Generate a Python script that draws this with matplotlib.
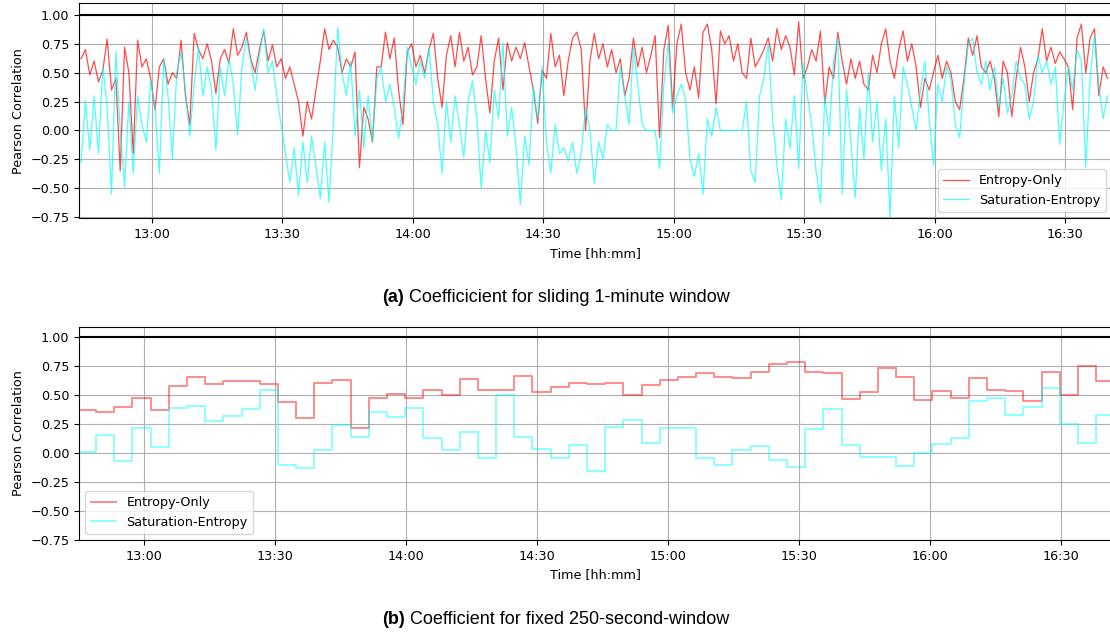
import numpy as np
import pandas as pd
import matplotlib
matplotlib.use("Agg")
import matplotlib.pyplot as plt
import matplotlib.dates as mdates

# (a) sliding 1-minute window, one value per minute starting 12:43:45
sliding_start = "2021-01-01 12:43:45"
entropy_only_sliding = [
    0.62, 0.70, 0.48, 0.60, 0.42, 0.52, 0.79, 0.35, 0.45, -0.35,
    0.72, 0.50, -0.20, 0.78, 0.55, 0.62, 0.45, 0.18, 0.55, 0.62,
    0.40, 0.50, 0.45, 0.78, 0.30, 0.05, 0.84, 0.70, 0.62, 0.75,
    0.60, 0.32, 0.62, 0.70, 0.58, 0.88, 0.65, 0.72, 0.85, 0.62,
    0.50, 0.70, 0.86, 0.60, 0.74, 0.55, 0.62, 0.45, 0.55, 0.40,
    0.25, -0.05, 0.25, 0.10, 0.35, 0.60, 0.88, 0.70, 0.78, 0.72,
    0.50, 0.62, 0.55, 0.68, -0.32, 0.20, 0.10, -0.10, 0.55,
    0.55, 0.85, 0.62, 0.80, 0.35, 0.05, 0.68, 0.75, 0.55, 0.65,
    0.50, 0.70, 0.84, 0.45, 0.20, 0.65, 0.82, 0.55, 0.85, 0.60,
    0.72, 0.48, 0.55, 0.82, 0.45, 0.15, 0.60, 0.80, 0.35, 0.76,
    0.60, 0.72, 0.62, 0.76, 0.55, 0.35, 0.06, 0.52, 0.45, 0.84,
    0.55, 0.65, 0.30, 0.60, 0.80, 0.85, 0.70, 0.00, 0.60, 0.84,
    0.62, 0.75, 0.55, 0.70, 0.50, 0.62, 0.30, 0.45, 0.80, 0.55,
    0.72, 0.50, 0.65, 0.82, -0.06, 0.70, 0.91, 0.20, 0.75, 0.92,
    0.50, 0.35, 0.55, 0.28, 0.85, 0.92, 0.70, 0.23, 0.86, 0.75,
    0.82, 0.60, 0.75, 0.50, 0.45,
    0.80, 0.55, 0.62, 0.70, 0.80, 0.60, 0.88, 0.70, 0.82, 0.72,
    0.48, 0.94, 0.45, 0.55, 0.70, 0.60, 0.86, 0.23, 0.55, 0.45,
    0.85, 0.60, 0.40, 0.62, 0.45, 0.60, 0.40, 0.35, 0.65, 0.50,
    0.75, 0.88, 0.60, 0.45, 0.70, 0.86, 0.60, 0.75, 0.55, 0.20,
    0.45, 0.35, 0.50, 0.65, 0.45, 0.60, 0.50, 0.25, 0.18, 0.45,
    0.80, 0.65, 0.82, 0.55, 0.50, 0.60, 0.45, 0.12, 0.60, 0.50,
    0.12, 0.45, 0.72, 0.55, 0.25, 0.50, 0.62, 0.88, 0.60, 0.72,
    0.58, 0.68, 0.62, 0.55, 0.18, 0.80, 0.92, 0.50, 0.80, 0.88,
    0.30, 0.55, 0.45,
]
saturation_entropy_sliding = [
    -0.28, 0.26, -0.17, 0.30, -0.20, 0.55, 0.20, -0.55, 0.68, 0.00,
    -0.49, 0.25, -0.37, 0.30, 0.05, -0.10, 0.43, 0.20, -0.37, 0.62,
    0.30, -0.25, 0.50, 0.68, 0.35, -0.05, 0.40, 0.72, 0.30, 0.55,
    0.35, -0.17, 0.55, 0.30, 0.62, 0.40, -0.04, 0.55, 0.80, 0.60,
    0.35, 0.65, 0.88, 0.50, 0.60, 0.30, 0.05, -0.20, -0.45, -0.15,
    -0.56, -0.10, -0.45, -0.05, -0.30, -0.59, -0.10, -0.62, 0.05, 0.89,
    0.50, 0.30, 0.60, -0.05, 0.35, -0.15, 0.30, -0.10, 0.45,
    0.55, 0.25, 0.40, 0.20, -0.07, 0.20, 0.72, 0.55, 0.40, 0.60,
    0.45, 0.72, 0.25, 0.05, -0.37, 0.25, -0.10, 0.30, 0.05, -0.23,
    0.25, 0.43, 0.10, -0.50, 0.00, -0.28, 0.35, 0.10, 0.76, -0.05,
    0.20, -0.14, -0.64, -0.05, -0.30, 0.38, 0.10, 0.55, -0.10, -0.37,
    0.05, -0.20, -0.15, -0.26, -0.10, -0.37, -0.20, 0.20, 0.00, -0.46,
    -0.10, -0.25, 0.05, 0.00, 0.00, 0.55, 0.30, 0.05, 0.72, 0.40,
    0.05, 0.00, 0.00, 0.00, -0.33, 0.40, 0.76, 0.15, 0.30, 0.40,
    0.27, -0.25, -0.40, -0.20, -0.55, 0.10, -0.05, 0.20, 0.00, 0.00,
    0.00, 0.00, 0.00, 0.00, 0.25,
    -0.35, -0.45, 0.30, 0.45, 0.75, 0.10, -0.30, -0.60, 0.10, -0.15,
    0.30, -0.33, 0.58, 0.30, 0.05, -0.35, -0.63, 0.30, -0.05, 0.60,
    0.80, -0.55, 0.35, -0.10, -0.58, 0.20, -0.25, 0.50, -0.10, 0.25,
    -0.35, 0.10, -0.75, 0.30, -0.15, 0.55, 0.40, 0.20, 0.00, 0.35,
    0.60, 0.10, -0.30, 0.40, 0.25, 0.55, 0.45, 0.05, -0.06, 0.40,
    0.75, 0.80, 0.50, 0.40, 0.60, 0.35, 0.55, 0.20, 0.45, 0.15,
    0.30, 0.60, 0.45, 0.40, 0.10, 0.25, 0.65, 0.50, 0.60, 0.40,
    0.55, -0.12, 0.25, 0.55, 0.35, 0.70, 0.60, -0.32, 0.45, 0.83,
    0.40, 0.10, 0.30,
]

# (b) fixed 250-second windows starting 12:44:46
fixed_start = "2021-01-01 12:44:46"
entropy_only_fixed = [
    0.37, 0.36, 0.40, 0.48, 0.37, 0.58, 0.66, 0.60, 0.62, 0.62,
    0.60, 0.44, 0.30, 0.61, 0.63, 0.22, 0.48, 0.51, 0.48, 0.55,
    0.50, 0.64, 0.55, 0.55, 0.67, 0.53, 0.57, 0.61, 0.60, 0.61,
    0.50, 0.59, 0.63, 0.66, 0.69, 0.66, 0.65, 0.70, 0.77, 0.79,
    0.70, 0.69, 0.47, 0.53, 0.74, 0.66, 0.46, 0.54, 0.48, 0.65,
    0.55, 0.54, 0.45, 0.70, 0.50, 0.75, 0.62,
]
saturation_entropy_fixed = [
    0.01, 0.16, -0.07, 0.22, 0.05, 0.39, 0.41, 0.28, 0.32, 0.38,
    0.55, -0.10, -0.13, 0.03, 0.24, 0.14, 0.36, 0.31, 0.39, 0.13,
    0.03, 0.18, -0.04, 0.50, 0.14, 0.04, -0.04, 0.07, -0.15, 0.23,
    0.29, 0.09, 0.22, 0.22, -0.04, -0.10, 0.03, 0.06, -0.06, -0.12,
    0.21, 0.38, 0.07, -0.03, -0.03, -0.11, 0.00, 0.08, 0.13, 0.45,
    0.48, 0.33, 0.40, 0.56, 0.25, 0.09, 0.33,
]
window_seconds = 250

yticks = [-0.75, -0.50, -0.25, 0.00, 0.25, 0.50, 0.75, 1.00]

t_sliding = pd.date_range(sliding_start, periods=len(entropy_only_sliding), freq="60s")
t_fixed = pd.date_range(fixed_start, periods=len(entropy_only_fixed) + 1,
                        freq=f"{window_seconds}s")
eo_fixed = np.append(entropy_only_fixed, entropy_only_fixed[-1])
se_fixed = np.append(saturation_entropy_fixed, saturation_entropy_fixed[-1])

plt.rcParams['font.family'] = 'DejaVu Sans'
fs = 9.2

fig = plt.figure(figsize=(11.1, 6.35), dpi=100)
ax1 = fig.add_axes([0.0712, 0.6562, 0.9306, 0.3386])
ax2 = fig.add_axes([0.0712, 0.1496, 0.9306, 0.3354])

ax1.plot(t_sliding, entropy_only_sliding, color="red", alpha=0.7, lw=0.9,
         label="Entropy-Only")
ax1.plot(t_sliding, saturation_entropy_sliding, color="cyan", alpha=0.7, lw=0.9,
         label="Saturation-Entropy")
ax1.set_xlim(pd.Timestamp("2021-01-01 12:43:17"), pd.Timestamp("2021-01-01 16:40:47"))
ax1.set_ylim(-0.76, 1.10)

ax2.step(t_fixed, eo_fixed, where="post", color="red", alpha=0.45, lw=1.4,
         label="Entropy-Only")
ax2.step(t_fixed, se_fixed, where="post", color="cyan", alpha=0.45, lw=1.4,
         label="Saturation-Entropy")
ax2.set_xlim(pd.Timestamp("2021-01-01 12:45:02"), pd.Timestamp("2021-01-01 16:41:45"))
ax2.set_ylim(-0.75, 1.09)

for ax, loc in ((ax1, "lower right"), (ax2, "lower left")):
    ax.axhline(1.0, color="black", lw=1.5)
    ax.set_yticks(yticks)
    ax.xaxis.set_major_locator(mdates.MinuteLocator(byminute=[0, 30]))
    ax.xaxis.set_major_formatter(mdates.DateFormatter("%H:%M"))
    ax.tick_params(labelsize=fs)
    ax.grid(True)
    ax.set_xlabel("Time [hh:mm]", fontsize=fs)
    ax.set_ylabel("Pearson Correlation", fontsize=fs)
    ax.legend(loc=loc, fontsize=fs)

# captions
cap_font = dict(family="Liberation Sans", fontsize=13)
for label, rest, y in (("(a)", " Coefficicient for sliding 1-minute window", 1 - 298 / 635),
                       ("(b)", " Coefficient for fixed 250-second-window", 1 - 620 / 635)):
    bold = fig.text(382 / 1110, y, label, fontweight="bold", va="center", ha="left", **cap_font)
    fig.draw_without_rendering()
    plt.annotate(rest, xy=(1, 0.5), xycoords=bold, va="center", ha="left", **cap_font)

fig.savefig("out.png", dpi=100)
